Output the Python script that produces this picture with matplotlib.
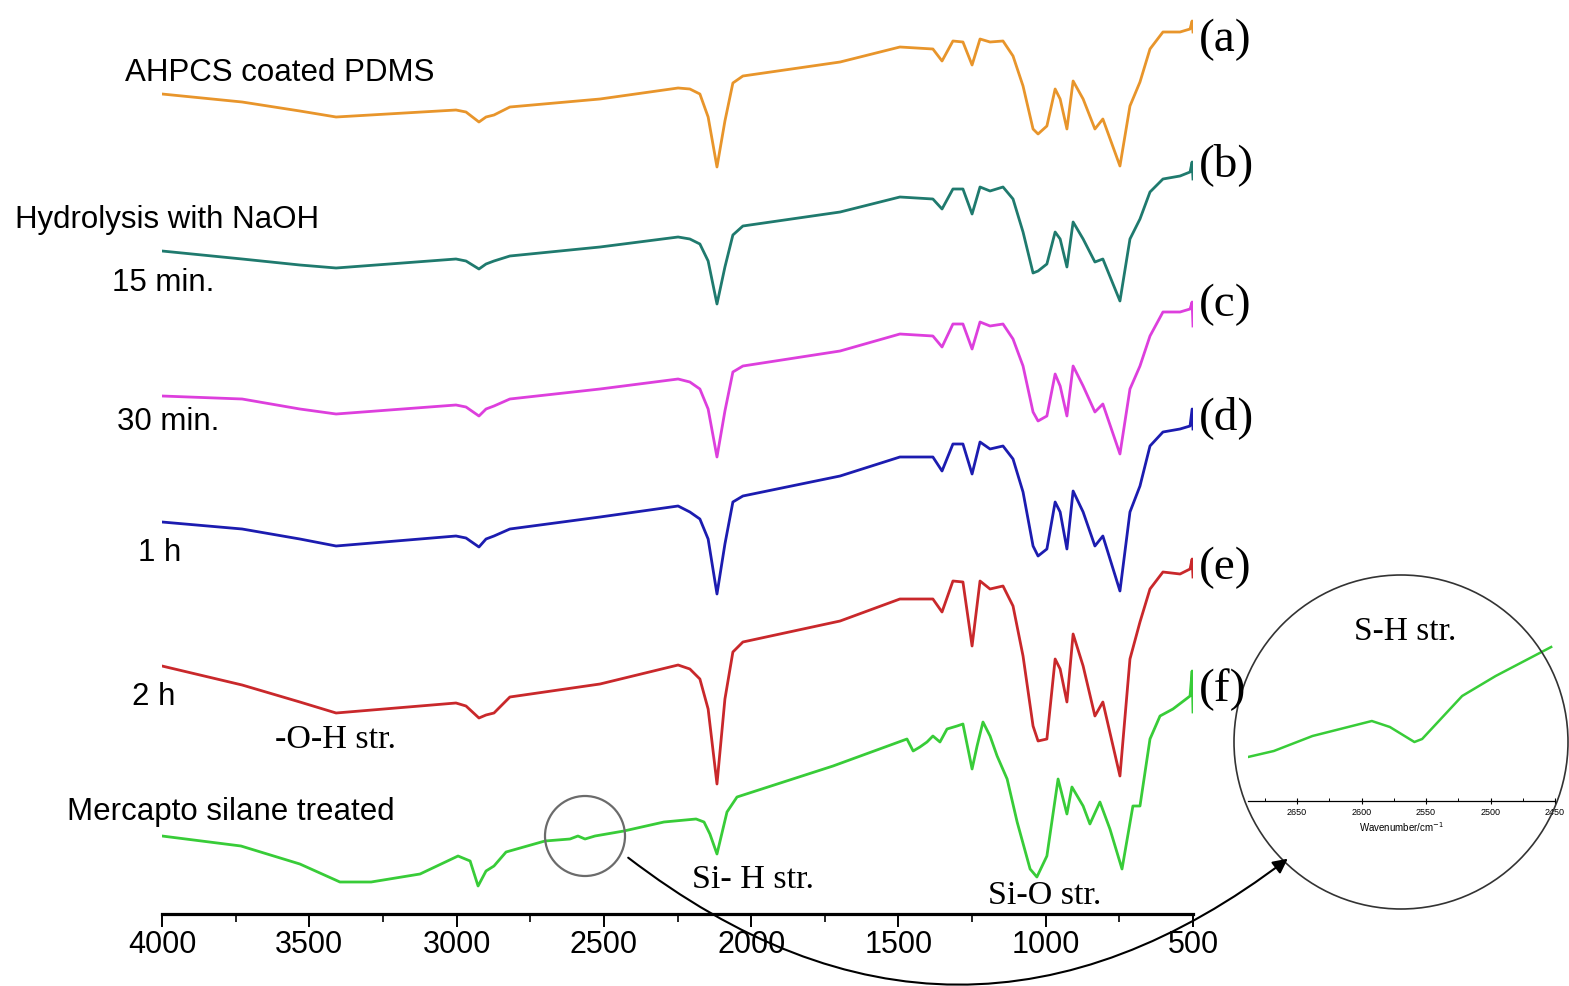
import numpy as np
import matplotlib
matplotlib.use("Agg")
import matplotlib.pyplot as plt
from matplotlib.transforms import Affine2D
from matplotlib.patches import Circle, FancyArrowPatch
from matplotlib.ticker import MultipleLocator

# ---------------- data ----------------
WN = [4000, 3728, 3532, 3409, 3002, 2968, 2924, 2900, 2873, 2819, 2513, 2248, 2208,
      2174, 2146, 2116, 2089, 2062, 2028, 1698, 1495, 1383, 1352, 1315, 1281, 1250,
      1223, 1189, 1145, 1111, 1077, 1043, 1026, 996, 968, 951, 928, 907, 873, 833,
      806, 748, 714, 680, 646, 602, 544, 510, 503, 500]

T_A = [820, 812, 803, 797, 804, 802, 792, 797, 799, 807, 815, 826, 825,
       820, 797, 747, 793, 831, 838, 852, 867, 865, 853, 873, 872, 849,
       875, 872, 873, 858, 828, 785, 780, 788, 825, 815, 785, 833, 815, 785,
       795, 748, 808, 832, 865, 882, 882, 885, 893, 882]
T_B = [663, 655, 649, 646, 655, 653, 645, 650, 653, 658, 667, 677, 675,
       670, 653, 610, 647, 679, 688, 702, 717, 715, 705, 725, 725, 700,
       727, 723, 727, 715, 682, 641, 643, 650, 682, 675, 647, 692, 675, 652,
       655, 613, 675, 695, 722, 735, 738, 742, 752, 735]
T_C = [518, 515, 505, 500, 509, 507, 498, 505, 508, 515, 525, 535, 532,
       525, 505, 457, 503, 542, 548, 563, 580, 578, 567, 590, 590, 565,
       592, 588, 590, 575, 548, 502, 493, 498, 540, 528, 498, 548, 528, 502,
       510, 460, 525, 548, 578, 602, 602, 605, 612, 588]
T_D = [392, 385, 375, 368, 378, 376, 367, 375, 378, 385, 397, 408, 402,
       395, 375, 320, 370, 412, 418, 438, 457, 457, 443, 470, 470, 440,
       472, 465, 468, 455, 422, 368, 358, 365, 412, 402, 365, 423, 402, 368,
       378, 323, 402, 428, 468, 482, 485, 488, 505, 485]
T_E = [248, 229, 212, 201, 211, 208, 196, 199, 201, 217, 230, 249, 245,
       235, 205, 130, 215, 262, 272, 293, 315, 315, 302, 333, 332, 268,
       333, 325, 328, 308, 258, 188, 173, 175, 255, 245, 212, 280, 248, 198,
       212, 138, 255, 292, 325, 342, 340, 345, 355, 337]

WN_F = [4000, 3732, 3532, 3396, 3290, 3124, 2995, 2954, 2927, 2900, 2873, 2832, 2700,
        2615, 2588, 2564, 2530, 2432, 2296, 2187, 2160, 2140, 2116, 2082, 2048, 1722,
        1471, 1450, 1427, 1403, 1383, 1359, 1335, 1301, 1281, 1250, 1233, 1213, 1189,
        1165, 1131, 1097, 1053, 1030, 996, 958, 928, 911, 873, 850, 816, 782, 741,
        704, 680, 646, 612, 568, 510, 503, 500]
T_F = [78, 68, 50, 32, 32, 40, 58, 53, 28, 43, 48, 62, 73,
       75, 78, 75, 78, 83, 92, 95, 92, 80, 60, 102, 117, 148,
       175, 163, 167, 172, 178, 172, 185, 188, 190, 145, 168, 192, 178,
       158, 135, 92, 45, 37, 58, 135, 100, 127, 108, 90, 112, 85, 45,
       108, 108, 175, 198, 205, 218, 243, 202]

INSET_WN = [2688, 2668, 2638, 2592, 2578, 2559, 2553, 2522, 2496, 2453]
INSET_T = [44, 50, 65, 80, 74, 59, 62, 105, 125, 154]

SERIES_TAGS = ["(a)", "(b)", "(c)", "(d)", "(e)", "(f)"]
COLORS = ["#E8952B", "#1F7A6E", "#DD3FDD", "#1C1CB0", "#C9282B", "#38CC38"]
XTICKS = [4000, 3500, 3000, 2500, 2000, 1500, 1000, 500]
INSET_TICKS = [2650, 2600, 2550, 2500, 2450]

SANS = ["Liberation Sans", "DejaVu Sans"]
SERIF = ["Liberation Serif", "DejaVu Serif"]

# ---------------- figure ----------------
W, H = 1569, 987
fig = plt.figure(figsize=(W / 100, H / 100), dpi=100)
fig.patch.set_facecolor("white")
PX = Affine2D().scale(1 / W, -1 / H).translate(0, 1) + fig.transFigure

ax = fig.add_axes([162 / W, 1 - 915 / H, (1193 - 162) / W, 915 / H])
ax.set_xlim(4000, 500)
ax.set_ylim(0, 915)
ax.patch.set_alpha(0)
for s in ["left", "right", "top"]:
    ax.spines[s].set_visible(False)
ax.spines["bottom"].set_linewidth(2.3)
ax.set_yticks([])
ax.set_xticks(XTICKS)
ax.xaxis.set_minor_locator(MultipleLocator(250))
ax.tick_params(axis="x", which="major", direction="out", length=9, width=1.4,
               labelsize=22, pad=2)
ax.tick_params(axis="x", which="minor", direction="out", length=5.5, width=1.2)
ax.set_xticklabels([str(t) for t in XTICKS])
for lab in ax.get_xticklabels():
    lab.set_fontfamily(SANS)

all_series = [(WN, T_A), (WN, T_B), (WN, T_C), (WN, T_D), (WN, T_E), (WN_F, T_F)]
for (xs, ys), c in zip(all_series, COLORS):
    ax.plot(xs, ys, color=c, lw=2.0, solid_joinstyle="round")

# series tags on the right
tag_rows = [40, 165, 305, 418, 568, 690]
for tag, r in zip(SERIES_TAGS, tag_rows):
    fig.text(1199, r, tag, transform=PX, ha="left", va="center",
             fontsize=34, fontfamily=SERIF)

# left labels
left_labels = [("AHPCS coated PDMS", 125, 73),
               ("Hydrolysis with NaOH", 15, 220),
               ("15 min.", 112, 283),
               ("30 min.", 117, 422),
               ("1 h", 138, 553),
               ("2 h", 132, 697),
               ("Mercapto silane treated", 67, 812)]
for txt, x, y in left_labels:
    fig.text(x, y, txt, transform=PX, ha="left", va="center",
             fontsize=22.5, fontfamily=SANS)

# band annotations
for txt, x, y in [("-O-H str.", 275, 740), ("Si- H str.", 692, 880),
                  ("Si-O str.", 988, 896)]:
    fig.text(x, y, txt, transform=PX, ha="left", va="center",
             fontsize=24.5, fontfamily=SERIF)

# magnifier circle on the green trace
small = Circle((585, 837), 40, transform=PX, fill=False, ec="#6b6b6b", lw=1.6)
fig.add_artist(small)

# big zoom circle
big = Circle((1401, 743), 167, transform=PX, fill=False, ec="#333333", lw=1.2)
fig.add_artist(big)

# curved arrow
arr = FancyArrowPatch(posA=(626, 857), posB=(1290, 858), transform=PX,
                      connectionstyle="arc3,rad=0.385", arrowstyle="-|>",
                      mutation_scale=22, lw=1.5, color="black")
fig.add_artist(arr)

# inset axes
iax = fig.add_axes([1248 / W, 1 - 802 / H, (1555 - 1248) / W, (802 - 580) / H])
iax.set_xlim(2688, 2451)
iax.set_ylim(0, 222)
iax.patch.set_alpha(0)
for s in ["left", "right", "top"]:
    iax.spines[s].set_visible(False)
iax.spines["bottom"].set_linewidth(0.9)
iax.set_yticks([])
iax.set_xticks(INSET_TICKS)
iax.xaxis.set_minor_locator(MultipleLocator(25))
iax.tick_params(axis="x", which="major", direction="inout", length=5, width=0.8,
                labelsize=6.5, pad=2)
iax.tick_params(axis="x", which="minor", direction="in", length=2.5, width=0.7)
iax.set_xticklabels([str(t) for t in INSET_TICKS])
iax.plot(INSET_WN, INSET_T, color=COLORS[5], lw=1.8)
iax.set_xlabel("Wavenumber/cm$^{-1}$", fontsize=7, labelpad=2, fontfamily=SANS)
for lab in iax.get_xticklabels():
    lab.set_fontfamily(SANS)
fig.text(1405, 632, "S-H str.", transform=PX, ha="center", va="center",
         fontsize=24, fontfamily=SERIF)

fig.savefig("out.png", dpi=100, facecolor="white")
